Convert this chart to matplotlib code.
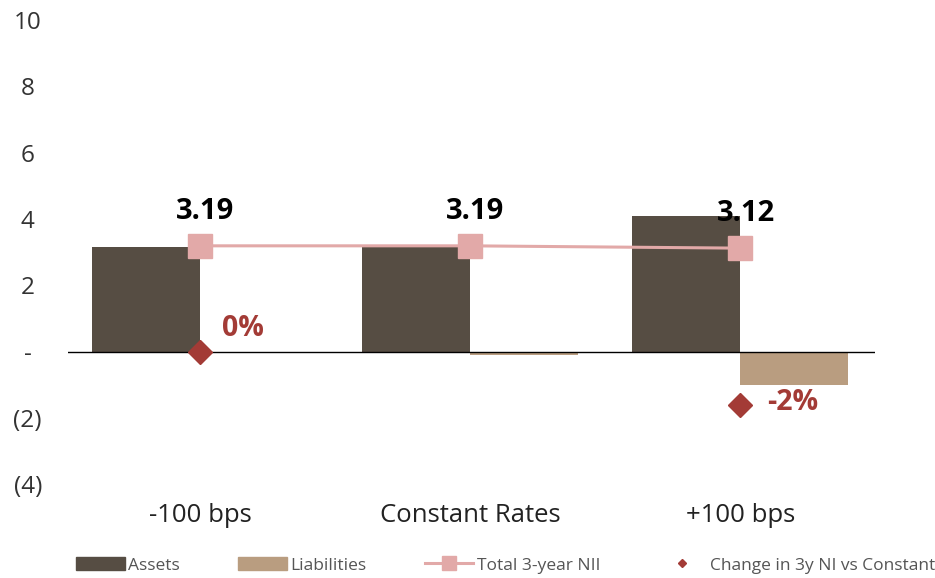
import matplotlib.pyplot as plt
from matplotlib.patches import Patch
from matplotlib.lines import Line2D
import numpy as np

plt.rcParams['font.family'] = ['Open Sans', 'DejaVu Sans']

# data
categories = ['-100 bps', 'Constant Rates', '+100 bps']
assets = [3.15, 3.15, 4.08]
liabilities = [0.0, -0.1, -1.0]
total_nii = [3.19, 3.19, 3.12]
nii_labels = ['3.19', '3.19', '3.12']
change_pos = [0, 2]
change_vals = [0.0, -1.6]
change_labels = ['0%', '-2%']

c_assets = '#564d43'
c_liab = '#b99d80'
c_line = '#e2a9a8'
c_diam = '#a33b36'

fig = plt.figure(figsize=(9.35, 5.78), dpi=100)
ax = fig.add_axes([0.0727, 0.1626, 0.8633, 0.8024])

x = np.arange(len(categories))
w = 0.4
ax.bar(x - w / 2, assets, w, color=c_assets, zorder=2)
ax.bar(x + w / 2, liabilities, w, color=c_liab, zorder=2)
ax.axhline(0, color='black', lw=1.0, zorder=3)

ax.plot(x, total_nii, color=c_line, lw=2.2, marker='s', ms=17, zorder=4)
for xi, v, lab in zip(x, total_nii, nii_labels):
    ax.text(xi + 0.02, v + 1.05, lab, ha='center', va='center', fontsize=21,
            fontweight='bold', color='black', zorder=5)

ax.plot(change_pos, change_vals, linestyle='none', marker='D', ms=12,
        color=c_diam, zorder=5)
for xi, v, lab in zip(change_pos, change_vals, change_labels):
    ax.text(xi + (0.08 if v == 0 else 0.1), v + (0.7 if v == 0 else 0.05), lab,
            ha='left', va='center', fontsize=20.5, fontweight='bold',
            color=c_diam, zorder=5)

ax.set_xlim(-0.489, 2.5)
ax.set_ylim(-4, 10)
ax.set_yticks([10, 8, 6, 4, 2, 0, -2, -4])
ax.set_yticklabels(['10', '8', '6', '4', '2', '-', '(2)', '(4)'])
ax.set_xticks(x)
ax.set_xticklabels(categories)
ax.tick_params(axis='y', length=0, pad=29, labelsize=17.5, labelcolor='#333333')
ax.tick_params(axis='x', length=0, pad=14, labelsize=18.5, labelcolor='#222222')
for lab in ax.get_yticklabels():
    lab.set_horizontalalignment('center')
for s in ax.spines.values():
    s.set_visible(False)

handles = [
    Patch(color=c_assets, label='Assets'),
    Patch(color=c_liab, label='Liabilities'),
    Line2D([], [], color=c_line, lw=2.2, marker='s', ms=10, label='Total 3-year NII'),
    Line2D([], [], color=c_diam, linestyle='none', marker='D', ms=4,
           label='Change in 3y NI vs Constant'),
]
fig.legend(handles=handles, loc='center', bbox_to_anchor=(0.541, 0.022), ncol=4,
           frameon=False, fontsize=12.5, handlelength=2.8, handleheight=0.8,
           columnspacing=3.35, handletextpad=0.2, labelcolor='#555555')

fig.savefig('out.png', dpi=100)
